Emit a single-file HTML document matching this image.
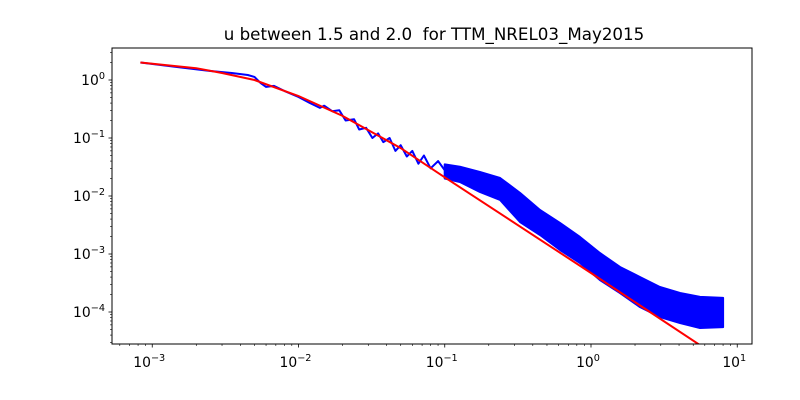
<!DOCTYPE html>
<html><head><meta charset="utf-8">
<style>
html,body{margin:0;padding:0;background:#fff;}
svg{display:block;font-family:"DejaVu Sans","Liberation Sans",sans-serif;}
</style></head>
<body>
<svg id="chart" width="800" height="400" xmlns="http://www.w3.org/2000/svg">
<rect width="800" height="400" fill="#fff"/>
<text x="434" y="40" font-size="16.7" text-anchor="middle" style="white-space:pre">u between 1.5 and 2.0  for TTM_NREL03_May2015</text>
<defs><clipPath id="clip"><rect x="112" y="48" width="640" height="296"/></clipPath></defs>
<g id="plot" clip-path="url(#clip)"></g>
<g id="axes"></g>
</svg>
<script>
// Low-frequency measured spectrum (line)
const lowFreq = [8.3e-4,1.5e-3,2.5e-3,3.5e-3,4.5e-3,5.0e-3,5.5e-3,6.0e-3,6.8e-3,8e-3,1.0e-2,1.2e-2,1.4e-2,1.5e-2,1.7e-2,1.9e-2,2.1e-2,2.4e-2,2.6e-2,2.9e-2,3.2e-2,3.5e-2,3.8e-2,4.2e-2,4.6e-2,5.0e-2,5.5e-2,6.0e-2,6.6e-2,7.2e-2,8.0e-2,9.0e-2,1.0e-1];
const lowPsd = [2.0,1.67,1.43,1.32,1.22,1.13,0.89,0.76,0.79,0.65,0.51,0.40,0.33,0.36,0.29,0.30,0.20,0.21,0.14,0.15,0.10,0.12,0.085,0.10,0.06,0.075,0.048,0.06,0.036,0.05,0.03,0.04,0.028];
// High-frequency measured spectrum (noisy band envelope)
const bandFreq = [0.1,0.127,0.174,0.239,0.327,0.448,0.614,0.841,1.15,1.58,2.16,2.96,4.06,5.56,8.0];
const bandUpper = [0.035,0.032,0.0259,0.0204,0.0113,0.00574,0.00342,0.00196,0.00104,0.000597,0.000401,0.00027,0.000213,0.000182,0.000175];
const bandLower = [0.02,0.0174,0.0117,0.00853,0.00356,0.00213,0.00117,0.0007,0.000356,0.000213,0.000122,0.000082,0.0000646,0.000053,0.000055];
// Model spectrum (red)
const modelFreq = [8.3e-4,2e-3,3e-3,5e-3,1e-2,2e-2,5e-2,0.1,1,6];
const modelPsd = [2.0,1.6,1.32,1.0,0.53,0.24,0.067,0.021,0.00047,0.0000237];
const xTickExp = [-3,-2,-1,0,1];
const yTickExp = [-4,-3,-2,-1,0];

const NS="http://www.w3.org/2000/svg";
const L=112,R=752,T=48,B=344;
const xMinL=-3.2752,xMaxL=1.1009,yMinL=-4.5517,yMaxL=0.5517;
function xs(f){return L+(Math.log10(f)-xMinL)/(xMaxL-xMinL)*(R-L);}
function ys(v){return B-(Math.log10(v)-yMinL)/(yMaxL-yMinL)*(B-T);}
function mk(tag,attrs,parent){const e=document.createElementNS(NS,tag);for(const k in attrs)e.setAttribute(k,attrs[k]);parent.appendChild(e);return e;}
const plot=document.getElementById('plot'),axes=document.getElementById('axes');

let pts=bandFreq.map((f,i)=>xs(f).toFixed(1)+','+ys(bandUpper[i]).toFixed(1));
for(let i=bandFreq.length-1;i>=0;i--)pts.push(xs(bandFreq[i]).toFixed(1)+','+ys(bandLower[i]).toFixed(1));
const band=mk('polygon',{points:pts.join(' '),fill:'#0000ff',stroke:'#0000ff','stroke-width':2,'stroke-linejoin':'round'},plot);


const low=mk('polyline',{points:lowFreq.map((f,i)=>xs(f).toFixed(1)+','+ys(lowPsd[i]).toFixed(1)).join(' '),fill:'none',stroke:'#0000ff','stroke-width':2,'stroke-linejoin':'round'},plot);


const model=mk('polyline',{points:modelFreq.map((f,i)=>xs(f).toFixed(1)+','+ys(modelPsd[i]).toFixed(1)).join(' '),fill:'none',stroke:'#ff0000','stroke-width':2},plot);



const frame=mk('rect',{x:L,y:T,width:R-L,height:B-T,fill:'none',stroke:'#000','stroke-width':1},axes);



for(let d=-4;d<=1;d++){for(let m=1;m<10;m++){const f=m*Math.pow(10,d);const lx=Math.log10(f);if(lx<xMinL||lx>xMaxL)continue;const x=xs(f);
 mk('line',{x1:x,y1:B,x2:x,y2:B+(m===1?3.5:2),stroke:'#000','stroke-width':m===1?0.8:0.6},axes);}}
xTickExp.forEach(e=>{const t=mk('text',{x:xs(Math.pow(10,e))-3,y:B+23,'font-size':13.9,'text-anchor':'middle'},axes);
 
 
 t.innerHTML='10<tspan dy="-6" font-size="9.7">'+(e<0?'\u2212':'')+Math.abs(e)+'</tspan>';});
for(let d=-5;d<=1;d++){for(let m=1;m<10;m++){const v=m*Math.pow(10,d);const ly=Math.log10(v);if(ly<yMinL||ly>yMaxL)continue;const y=ys(v);
 mk('line',{x1:L,y1:y,x2:L-(m===1?3.5:2),y2:y,stroke:'#000','stroke-width':m===1?0.8:0.6},axes);}}
yTickExp.forEach(e=>{const t=mk('text',{x:L-7,y:ys(Math.pow(10,e))+5,'font-size':13.9,'text-anchor':'end'},axes);
 
 
 t.innerHTML='10<tspan dy="-6" font-size="9.7">'+(e<0?'\u2212':'')+Math.abs(e)+'</tspan>';});
</script>
</body></html>
